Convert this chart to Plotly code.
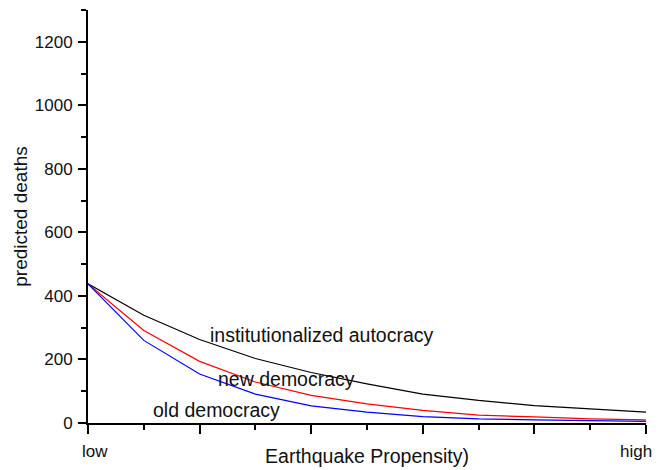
import plotly.graph_objects as go

x_vals = [0, 1, 2, 3, 4, 5, 6, 7, 8, 9, 10]
autocracy = [438, 339, 263, 203, 159, 123, 91, 71, 55, 45, 34]
new_democracy = [438, 291, 194, 129, 87, 60, 40, 25, 19, 13, 10]
old_democracy = [438, 260, 154, 91, 54, 34, 20, 13, 10, 7, 5]

x_tickvals = [0, 2, 4, 6, 8, 10]
y_tickvals = [0, 200, 400, 600, 800, 1000, 1200]

FONT = "Liberation Sans, Arial, sans-serif"
TXT = "#111111"

fig = go.Figure()
fig.add_trace(go.Scatter(x=x_vals, y=autocracy, mode="lines",
                         line=dict(color="#000000", width=1.2), showlegend=False))
fig.add_trace(go.Scatter(x=x_vals, y=new_democracy, mode="lines",
                         line=dict(color="#ff0000", width=1.2), showlegend=False))
fig.add_trace(go.Scatter(x=x_vals, y=old_democracy, mode="lines",
                         line=dict(color="#0000ff", width=1.2), showlegend=False))

labels = [
    ("institutionalized autocracy", 2.19, 282),
    ("new democracy", 2.33, 144),
    ("old democracy", 1.16, 47),
]
for text, lx, ly in labels:
    fig.add_annotation(x=lx, y=ly, text=text, showarrow=False, xanchor="left",
                       yanchor="middle", xshift=-2, yshift=-2,
                       font=dict(size=19.5, color=TXT, family=FONT))

fig.add_annotation(x=0, y=-0.068, xref="x", yref="paper", text="low", showarrow=False,
                   xanchor="center", yanchor="middle", xshift=7,
                   font=dict(size=17, color=TXT, family=FONT))
fig.add_annotation(x=10, y=-0.068, xref="x", yref="paper", text="high", showarrow=False,
                   xanchor="center", yanchor="middle", xshift=-10,
                   font=dict(size=17, color=TXT, family=FONT))

fig.update_layout(
    width=664, height=470,
    margin=dict(l=88, r=18, t=10, b=45),
    plot_bgcolor="white", paper_bgcolor="white",
    font=dict(family=FONT, color=TXT),
    xaxis=dict(range=[0, 10], showgrid=False, zeroline=False,
               showline=True, linecolor="#000000", linewidth=2,
               tickmode="array", tickvals=x_tickvals, ticktext=[""] * len(x_tickvals),
               ticks="outside", ticklen=9, tickwidth=1.5, tickcolor="#000000",
               minor=dict(dtick=1, ticks="outside", ticklen=5, tickwidth=1.5, tickcolor="#000000"),
               title=dict(text="Earthquake Propensity)", font=dict(size=19.5, color=TXT), standoff=14),
               fixedrange=True),
    yaxis=dict(range=[0, 1300], showgrid=False, zeroline=False,
               showline=True, linecolor="#000000", linewidth=2,
               tickmode="array", tickvals=y_tickvals,
               ticks="outside", ticklen=8, tickwidth=1.5, tickcolor="#000000",
               minor=dict(dtick=100, ticks="outside", ticklen=5, tickwidth=1.5, tickcolor="#000000"),
               tickfont=dict(size=17, color=TXT),
               ticklabelstandoff=2,
               title=dict(text="predicted deaths", font=dict(size=19, color=TXT), standoff=2),
               fixedrange=True),
)

fig.write_html("out.html")
